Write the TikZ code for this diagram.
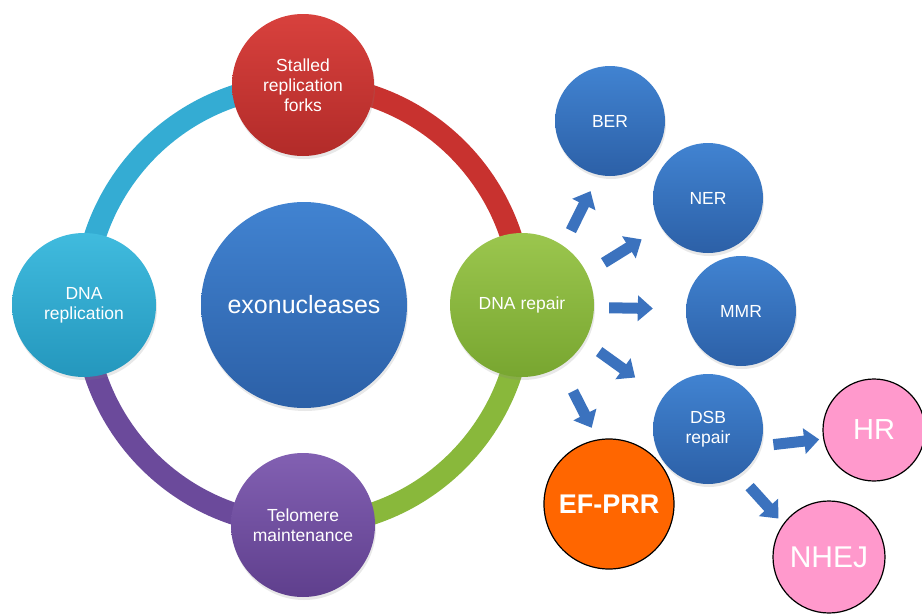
\documentclass[tikz,border=0pt]{standalone}
\usepackage{fontspec}
\setmainfont{Liberation Sans}
\usetikzlibrary{arrows.meta,shadows}
\pgfdeclarelayer{background}
\pgfsetlayers{background,main}
\definecolor{ringcyan}{HTML}{34ACD3}
\definecolor{ringred}{HTML}{C8322F}
\definecolor{ringgreen}{HTML}{89B83B}
\definecolor{ringpurple}{HTML}{6B4A9B}
\definecolor{arrowblue}{HTML}{3B72BE}
\definecolor{efo}{HTML}{FF6600}
\definecolor{pinkc}{HTML}{FF99CC}
\definecolor{redtop}{HTML}{D8413D}
\definecolor{redbot}{HTML}{B22B29}
\definecolor{cyantop}{HTML}{40BBDE}
\definecolor{cyanbot}{HTML}{2497BD}
\definecolor{bluetop}{HTML}{4183D1}
\definecolor{bluebot}{HTML}{2C60A7}
\definecolor{greentop}{HTML}{9BC64E}
\definecolor{greenbot}{HTML}{78A630}
\definecolor{purpletop}{HTML}{8260B2}
\definecolor{purplebot}{HTML}{5F3F8D}
\tikzset{
  bub/.style={circle, inner sep=0pt, align=center, text=white,
    font=\fontsize{17.5}{20}\selectfont,
    drop shadow={opacity=0.18, shadow xshift=1pt, shadow yshift=-3pt}},
  redb/.style={bub, top color=redtop, bottom color=redbot},
  cyanb/.style={bub, top color=cyantop, bottom color=cyanbot},
  blueb/.style={bub, top color=bluetop, bottom color=bluebot},
  greenb/.style={bub, top color=greentop, bottom color=greenbot},
  purpleb/.style={bub, top color=purpletop, bottom color=purplebot},
  flatb/.style={circle, inner sep=0pt, align=center, text=white, draw=black, line width=1.2pt},
  ringseg/.style={line width=22pt, line cap=butt},
  barrow/.style={draw=arrowblue, line width=11pt, line cap=butt,
    -{Triangle[length=15pt, width=25pt]}},
}
\begin{document}
\begin{tikzpicture}[x=1pt,y=-1pt]
\useasboundingbox (0,0) rectangle (922,616);
\clip (0,0) rectangle (922,616);

\node[redb, minimum size=142pt] (stalled) at (303,85) {Stalled\\replication\\forks};
\node[cyanb, minimum size=144pt] (repl) at (84,305) {DNA\\replication};
\node[blueb, minimum size=206pt, font=\fontsize{25}{28}\selectfont] (exo) at (304,305) {exonucleases};
\node[purpleb, minimum size=144pt] (telo) at (303,525) {Telomere\\maintenance};
\node[greenb, minimum size=144pt] (repair) at (522,305) {DNA repair};

\node[blueb, minimum size=110pt] (ber) at (610,121) {BER};
\node[blueb, minimum size=110pt] (ner) at (708,198) {NER};
\node[blueb, minimum size=110pt] (mmr) at (741,311) {MMR};
\node[blueb, minimum size=110pt] (dsb) at (708,429) {DSB\\repair};

\node[flatb, fill=efo, minimum size=130pt, font=\fontsize{27}{30}\selectfont\bfseries] (efprr) at (609,504) {EF-PRR};
\node[flatb, fill=pinkc, minimum size=102pt, font=\fontsize{29}{32}\selectfont] (hr) at (874,430) {HR};
\node[flatb, fill=pinkc, minimum size=112pt, font=\fontsize{30}{33}\selectfont] (nhej) at (829,557) {NHEJ};

\begin{pgfonlayer}{background}
\fill[white] (0,0) rectangle (922,616);
\draw[ringseg, ringcyan] (repl.center) to[out=90,in=180] (stalled.center);
\draw[ringseg, ringred] (stalled.center) to[out=0,in=90] (repair.center);
\draw[ringseg, ringgreen] (repair.center) to[out=-90,in=0] (telo.center);
\draw[ringseg, ringpurple] (telo.center) to[out=180,in=-90] (repl.center);
\end{pgfonlayer}

\draw[barrow, shorten <=17pt, shorten >=18pt] (repair.55) -- (ber.258);
\draw[barrow, shorten <=20pt, shorten >=23pt] (repair.26) -- (ner.212);
\draw[barrow, shorten <=15pt, shorten >=33pt] (repair.-2) -- (mmr.178);
\draw[barrow, shorten <=18pt, shorten >=34pt] (repair.-30) -- (dsb.145);
\draw[barrow, shorten <=28pt, shorten >=13pt] (repair.-58) -- (efprr.100);
\draw[barrow, shorten <=13pt, shorten >=4pt] (dsb.-18) -- (hr.190);
\draw[barrow, shorten <=16pt, shorten >=7pt] (dsb.-56) -- (nhej.144);
\end{tikzpicture}
\end{document}
